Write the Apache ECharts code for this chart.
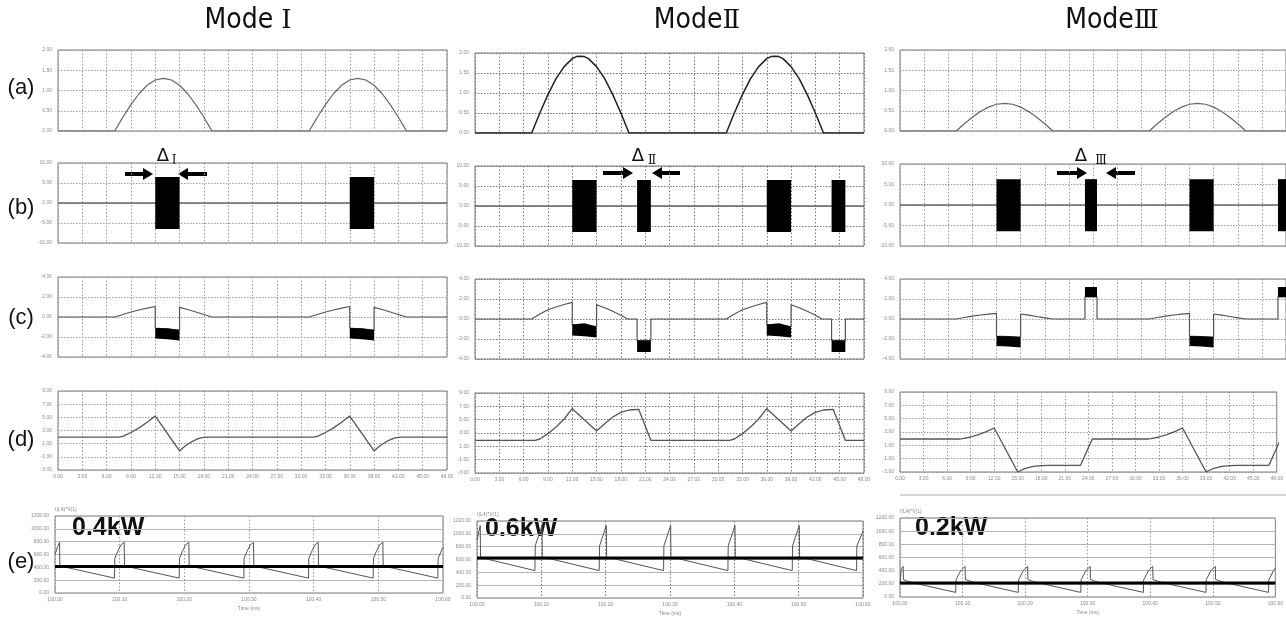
<!DOCTYPE html>
<html><head><meta charset="utf-8">
<script src="https://cdn.jsdelivr.net/npm/echarts@6/dist/echarts.min.js"></script>
<style>html,body{margin:0;padding:0;background:#fff}#c{width:1286px;height:619px}</style>
</head><body><div id="c"></div>
<script>
// ---------- axis ranges / tick labels ----------
const xRangeMs = [0, 48, 3];
const xRangeE = [100, 100.6, 0.1];
const yRangeA = [0, 2, 0.5];
const yRangeB = [-10, 10, 5];
const yRangeC = [-4, 4, 2];
const yRangeD = [-3, 9, 2];
const yRangeE = [0, 1200, 200];
const modeWord = ['Mode ', 'Mode', 'Mode'];
const modeNumerals = ['Ⅰ', 'Ⅱ', 'Ⅲ'];
const rowLabels = ['(a)', '(b)', '(c)', '(d)', '(e)'];
const powerLabels = ['0.4kW', '0.6kW', '0.2kW'];
const deltaSubs = ['Ⅰ', 'Ⅱ', 'Ⅲ'];

// ---------- (a) ----------
const aModeI = [[0,0],[7,0],[7.5,0.17],[8,0.34],[9,0.65],[10,0.92],[11,1.13],[12,1.26],[13,1.3],[14,1.26],[15,1.13],[16,0.92],[17,0.65],[18,0.34],[18.5,0.17],[19,0],[31,0],[31.5,0.17],[32,0.34],[33,0.65],[34,0.92],[35,1.13],[36,1.26],[37,1.3],[38,1.26],[39,1.13],[40,0.92],[41,0.65],[42,0.34],[42.5,0.17],[43,0],[48,0]];
const aModeII = [[0,0],[7,0],[7.5,0.25],[8,0.5],[9,0.96],[10,1.36],[11,1.66],[12,1.86],[12.5,1.91],[13,1.92],[13.5,1.91],[14,1.86],[15,1.66],[16,1.36],[17,0.96],[18,0.5],[18.5,0.25],[19,0],[31,0],[31.5,0.25],[32,0.5],[33,0.96],[34,1.36],[35,1.66],[36,1.86],[36.5,1.91],[37,1.92],[37.5,1.91],[38,1.86],[39,1.66],[40,1.36],[41,0.96],[42,0.5],[42.5,0.25],[43,0],[48,0]];
const aModeIII = [[0,0],[7,0],[8,0.18],[9,0.34],[10,0.48],[11,0.59],[12,0.66],[13,0.68],[14,0.66],[15,0.59],[16,0.48],[17,0.34],[18,0.18],[19,0],[31,0],[32,0.18],[33,0.34],[34,0.48],[35,0.59],[36,0.66],[37,0.68],[38,0.66],[39,0.59],[40,0.48],[41,0.34],[42,0.18],[43,0],[48,0]];

// ---------- (b) pulse blocks [tStart, tEnd, low, high] ----------
const bModeI = [[12,15,-6.5,6.5],[36,39,-6.5,6.5]];
const bModeII = [[12,15,-6.5,6.5],[20,21.7,-6.5,6.5],[36,39,-6.5,6.5],[44,45.7,-6.5,6.5]];
const bModeIII = [[12,15,-6.4,6.3],[23,24.5,-6.4,6.3],[36,39,-6.4,6.3],[47,48.5,-6.4,6.3]];
const bZero = [[0,0],[48,0]];

// ---------- (c) ----------
const cModeI = [[0,0],[7,0],[8,0.25],[9,0.5],[10,0.7],[11,0.88],[12,1.05],[12,-1.1],[15,-1.3],[15,0.97],[16,0.75],[17,0.5],[18,0.25],[19,0],[31,0],[32,0.25],[33,0.5],[34,0.7],[35,0.88],[36,1.05],[36,-1.1],[39,-1.3],[39,0.97],[40,0.75],[41,0.5],[42,0.25],[43,0],[48,0]];
// blocks [t0, t1, edge1 left, edge1 mid, edge1 right, edge2 left, edge2 mid, edge2 right]
const cModeIBlocks = [[12,15,-1.1,-1.12,-1.3,-2.15,-2.22,-2.35],[36,39,-1.1,-1.12,-1.3,-2.15,-2.22,-2.35]];
const cModeII = [[0,0],[7,0],[8,0.5],[9,0.93],[10,1.2],[11,1.45],[12,1.67],[12,-0.55],[15,-0.75],[15,1.43],[16,1.12],[17,0.77],[18,0.38],[18.8,0],[20,0],[20,-2.15],[21.7,-2.15],[21.7,0],[31,0],[32,0.5],[33,0.93],[34,1.2],[35,1.45],[36,1.67],[36,-0.55],[39,-0.75],[39,1.43],[40,1.12],[41,0.77],[42,0.38],[42.8,0],[44,0],[44,-2.15],[45.7,-2.15],[45.7,0],[48,0]];
const cModeIIBlocks = [[12,15,-0.55,-0.42,-0.75,-1.65,-1.72,-1.85],[20,21.7,-2.15,-2.15,-2.15,-3.3,-3.3,-3.3],[36,39,-0.55,-0.42,-0.75,-1.65,-1.72,-1.85],[44,45.7,-2.15,-2.15,-2.15,-3.3,-3.3,-3.3]];
const cModeIII = [[0,0],[7,0],[8,0.15],[9,0.28],[10,0.4],[11,0.48],[12,0.57],[12,-1.7],[15,-1.8],[15,0.5],[16,0.38],[17,0.25],[18,0.12],[19,0],[23,0],[23,2.2],[24.5,2.2],[24.5,0],[31,0],[32,0.15],[33,0.28],[34,0.4],[35,0.48],[36,0.57],[36,-1.7],[39,-1.8],[39,0.5],[40,0.38],[41,0.25],[42,0.12],[43,0],[47,0],[47,2.2],[48.5,2.2]];
const cModeIIIBlocks = [[12,15,-1.7,-1.72,-1.8,-2.7,-2.75,-2.85],[23,24.5,3.2,3.2,3.2,2.2,2.2,2.2],[36,39,-1.7,-1.72,-1.8,-2.7,-2.75,-2.85],[47,48.5,3.2,3.2,3.2,2.2,2.2,2.2]];

// ---------- (d) ----------
const dModeI = [[0,2],[7.5,2],[8,2.1],[9,2.7],[10,3.4],[11,4.25],[12,5.2],[15,-0.1],[15.5,0.45],[16,0.9],[16.5,1.3],[17,1.6],[17.5,1.85],[18,1.95],[18.5,2],[31.5,2],[32,2.1],[33,2.7],[34,3.4],[35,4.25],[36,5.2],[39,-0.1],[39.5,0.45],[40,0.9],[40.5,1.3],[41,1.6],[41.5,1.85],[42,1.95],[42.5,2],[48,2]];
const dModeII = [[0,1.9],[7.4,1.9],[8,2.1],[9,2.9],[10,3.9],[11,5.1],[12,6.65],[15,3.3],[16,4.4],[17,5.4],[18,6.1],[19,6.45],[20.2,6.55],[21.7,1.9],[31.4,1.9],[32,2.1],[33,2.9],[34,3.9],[35,5.1],[36,6.65],[39,3.3],[40,4.4],[41,5.4],[42,6.1],[43,6.45],[44.2,6.55],[45.7,1.9],[48,1.9]];
const dModeIII = [[0,1.95],[7.5,1.95],[8,2],[9,2.25],[10,2.6],[11,3.05],[12,3.6],[15,-3],[15.5,-2.7],[16,-2.45],[17,-2.15],[18,-2.05],[19,-2],[23,-2],[24.5,1.95],[31.5,1.95],[32,2],[33,2.25],[34,2.6],[35,3.05],[36,3.6],[39,-3],[39.5,-2.7],[40,-2.45],[41,-2.15],[42,-2.05],[43,-2],[47,-2],[48.5,1.95]];

// ---------- (e) ----------
const eModeI = [[100,600],[100.004,720],[100.007,790],[100.0075,412],[100.015,405],
 [100.092,232],[100.0925,540],[100.097,650],[100.102,750],[100.107,790],[100.1075,412],[100.115,405],
 [100.192,232],[100.1925,540],[100.197,650],[100.202,750],[100.207,790],[100.2075,412],[100.215,405],
 [100.292,232],[100.2925,540],[100.297,650],[100.302,750],[100.307,790],[100.3075,412],[100.315,405],
 [100.392,232],[100.3925,540],[100.397,650],[100.402,750],[100.407,790],[100.4075,412],[100.415,405],
 [100.492,232],[100.4925,540],[100.497,650],[100.502,750],[100.507,790],[100.5075,412],[100.515,405],
 [100.592,232],[100.5925,540],[100.597,650],[100.6,710]];
const eModeIAvg = 412;
const eModeII = [[100,900],[100.005,1130],[100.0055,628],[100.01,620],
 [100.09,427],[100.0905,812],[100.101,1130],[100.1015,628],[100.11,620],
 [100.19,427],[100.1905,812],[100.201,1130],[100.2015,628],[100.21,620],
 [100.29,427],[100.2905,812],[100.301,1130],[100.3015,628],[100.31,620],
 [100.39,427],[100.3905,812],[100.401,1130],[100.4015,628],[100.41,620],
 [100.49,427],[100.4905,812],[100.501,1130],[100.5015,628],[100.51,620],
 [100.59,427],[100.5905,812],[100.6,1040]];
const eModeIIAvg = 625;
const eModeIII = [[100,200],[100.002,420],[100.005,465],[100.0055,265],[100.012,240],[100.018,222],
 [100.089,70],[100.0895,260],[100.097,400],[100.104,465],[100.1045,265],[100.112,240],[100.118,222],
 [100.189,70],[100.1895,260],[100.197,400],[100.204,465],[100.2045,265],[100.212,240],[100.218,222],
 [100.289,70],[100.2895,260],[100.297,400],[100.304,465],[100.3045,265],[100.312,240],[100.318,222],
 [100.389,70],[100.3895,260],[100.397,400],[100.404,465],[100.4045,265],[100.412,240],[100.418,222],
 [100.489,70],[100.4895,260],[100.497,400],[100.504,465],[100.5045,265],[100.512,240],[100.518,222],
 [100.589,70],[100.5895,260],[100.597,400],[100.6,440]];
const eModeIIIAvg = 213;

// ---------- layout (pixels) ----------
const layout = [
  [[58,50,389,81],[58,163,389,80],[58,277,389,80],[58,391,389,79],[55,516,388,77]],
  [[475,53,389,80],[475,166,389,80],[475,279,389,80],[475,393,389,80],[477,521,386,77]],
  [[900,50,391,81],[900,164,391,82],[900,279,391,80],[900,392,391,80],[900,518,392,79]]
];

const chart = echarts.init(document.getElementById('c'), null, {renderer: 'canvas'});
const grids = [], xAxes = [], yAxes = [], series = [];
const labelFont = {fontSize: 5, color: '#8a8a8a', fontFamily: 'Liberation Sans'};
const yRanges = [yRangeA, yRangeB, yRangeC, yRangeD, yRangeE];
const gridCol = ['#9a9a9a', '#777', '#9a9a9a'];

for (let c = 0; c < 3; c++) {
  for (let r = 0; r < 5; r++) {
    const [l, t, w, h] = layout[c][r];
    grids.push({left: l, top: t, width: w, height: h, show: true, borderColor: '#7a7a7a', borderWidth: 1});
    const idx = c * 5 + r;
    const xr = r === 4 ? xRangeE : xRangeMs;
    const showX = r >= 3;
    xAxes.push({
      type: 'value', gridIndex: idx, min: xr[0], max: xr[1], interval: xr[2],
      axisLine: {show: false}, axisTick: {show: false},
      axisLabel: Object.assign({show: showX, margin: 4, formatter: v => v.toFixed(2)}, labelFont),
      splitLine: {show: true, lineStyle: {type: [1.5, 2], color: gridCol[c], width: 1}},
      name: r === 4 ? 'Time (ms)' : '', nameLocation: 'middle', nameGap: 13,
      nameTextStyle: {fontSize: 5, color: '#8a8a8a'}
    });
    const yr = yRanges[r];
    yAxes.push({
      type: 'value', gridIndex: idx, min: yr[0], max: yr[1], interval: yr[2],
      axisLine: {show: false}, axisTick: {show: false},
      axisLabel: Object.assign({margin: 6, formatter: v => v.toFixed(2)}, labelFont),
      splitLine: {show: true, lineStyle: r === 4 ? {type: 'solid', color: '#b5b5b5', width: 1} : {type: [1.5, 1.5], color: gridCol[c], width: 1}},
      name: r === 4 ? 'I(L4)*V(1)' : '', nameLocation: 'end', nameGap: 4,
      nameTextStyle: {fontSize: 5, color: '#8a8a8a', align: 'left'}
    });
  }
}

function lineS(idx, data, color, width) {
  return {type: 'line', xAxisIndex: idx, yAxisIndex: idx, data: data, symbol: 'none', showSymbol: false,
    lineStyle: {color: color, width: width, join: 'round'}, silent: true, animation: false, z: 3};
}
function csys(params) {
  const s = params.coordSys; return {x: s.x, y: s.y, width: s.width, height: s.height};
}
function rectItem(params, api) {
  const p0 = api.coord([api.value(0), api.value(3)]);
  const p1 = api.coord([api.value(1), api.value(2)]);
  const shape = echarts.graphic.clipRectByRect({x: p0[0], y: p0[1], width: p1[0] - p0[0], height: p1[1] - p0[1]}, csys(params));
  return shape && {type: 'rect', shape: shape, style: {fill: '#000'}};
}
function polyItem(params, api) {
  const x0 = api.value(0), x1 = api.value(1), xm = (x0 + x1) / 2;
  const pts = [[x0, api.value(2)], [xm, api.value(3)], [x1, api.value(4)], [x1, api.value(7)], [xm, api.value(6)], [x0, api.value(5)]].map(p => api.coord(p));
  return {type: 'polygon', shape: {points: echarts.graphic.clipPointsByRect(pts, csys(params))}, style: {fill: '#000'}};
}
function customS(idx, data, fn) {
  return {type: 'custom', xAxisIndex: idx, yAxisIndex: idx, data: data, renderItem: fn,
    encode: {x: [0, 1], y: [2, 3]}, silent: true, animation: false, z: 4};
}

const aData = [aModeI, aModeII, aModeIII];
const bData = [bModeI, bModeII, bModeIII];
const cData = [cModeI, cModeII, cModeIII];
const cBlocks = [cModeIBlocks, cModeIIBlocks, cModeIIIBlocks];
const dData = [dModeI, dModeII, dModeIII];
const eData = [eModeI, eModeII, eModeIII];
const eAvg = [eModeIAvg, eModeIIAvg, eModeIIIAvg];
const aColor = ['#666', '#222', '#666'];
const aWidth = [1.2, 1.5, 1.2];

for (let c = 0; c < 3; c++) {
  const base = c * 5;
  series.push(lineS(base, aData[c], aColor[c], aWidth[c]));
  series.push(lineS(base + 1, bZero, '#666', 1.3));
  series.push(customS(base + 1, bData[c], rectItem));
  series.push(lineS(base + 2, cData[c], '#555', 1.2));
  series.push(customS(base + 2, cBlocks[c], polyItem));
  series.push(lineS(base + 3, dData[c], '#555', 1.3));
  series.push(lineS(base + 4, eData[c], '#555', 1));
  series.push(lineS(base + 4, [[xRangeE[0], eAvg[c]], [xRangeE[1], eAvg[c]]], '#000', 3));
}

// ---------- annotations ----------
const graphic = [];
const titleX = [248, 697, 1112];
for (let c = 0; c < 3; c++) {
  graphic.push({type: 'text', style: {text: '{w|' + modeWord[c] + '}{n|' + modeNumerals[c] + '}', x: titleX[c], y: 21, align: 'center', verticalAlign: 'middle',
    rich: {
      w: {fontSize: 28, fontFamily: "'Liberation Sans Narrow','DejaVu Sans Condensed','Liberation Sans',sans-serif", fill: '#111', color: '#111'},
      n: {fontSize: 26, fontFamily: "'DejaVu Serif','Liberation Serif','Noto Sans CJK SC',serif", fill: '#111', color: '#111'}
    }}});
}
const rowY = [88, 208, 318, 440, 562];
rowLabels.forEach((t, i) => graphic.push({type: 'text', style: {text: t, x: 21, y: rowY[i], align: 'center', verticalAlign: 'middle',
  fontSize: 22, fontFamily: 'Liberation Sans', fill: '#111'}}));
const pX = [72, 485, 915], pY = [528, 529, 528];
powerLabels.forEach((t, i) => graphic.push({type: 'text', style: {text: t, x: pX[i], y: pY[i], align: 'left', verticalAlign: 'middle',
  fontSize: 25, fontWeight: 'bold', fontFamily: 'Liberation Sans', fill: '#111'}}));
const dX = [163, 638, 1081], sX = [174, 652, 1101];
for (let c = 0; c < 3; c++) {
  graphic.push({type: 'text', style: {text: 'Δ', x: dX[c], y: 156, align: 'center', verticalAlign: 'middle', fontSize: 18, fontFamily: 'DejaVu Sans', fill: '#111'}});
  graphic.push({type: 'text', style: {text: deltaSubs[c], x: sX[c], y: 161, align: 'center', verticalAlign: 'middle', fontSize: 12, fontFamily: "'DejaVu Serif','Noto Sans CJK SC',serif", fill: '#111'}});
}
function arrow(xs, xe, y) {
  const dir = xe > xs ? 1 : -1;
  const hx = xe - dir * 10;
  graphic.push({type: 'rect', shape: {x: Math.min(xs, hx), y: y - 2, width: Math.abs(hx - xs), height: 4}, style: {fill: '#000'}});
  graphic.push({type: 'polygon', shape: {points: [[hx, y - 6], [xe, y], [hx, y + 6]]}, style: {fill: '#000'}});
}
arrow(125, 153, 174); arrow(207, 178, 174);
arrow(603, 633, 173); arrow(680, 652, 173);
arrow(1057, 1087, 173); arrow(1135, 1106, 173);
graphic.push({type: 'line', shape: {x1: 900, y1: 495, x2: 1286, y2: 495}, style: {stroke: '#aaa', lineWidth: 1}});

chart.setOption({
  animation: false,
  backgroundColor: '#fff',
  grid: grids, xAxis: xAxes, yAxis: yAxes, series: series, graphic: graphic
});
</script></body></html>
